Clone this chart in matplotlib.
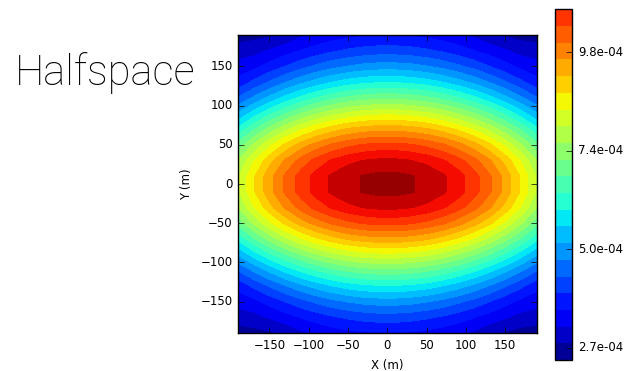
import numpy as np
import matplotlib
matplotlib.use('Agg')
import matplotlib.pyplot as plt

plt.style.use('classic')

# grid node positions (m) for one quadrant, the field is mirrored in x and y
node_pos = [10, 30, 50, 70, 90, 110, 130, 150, 170, 190]

# field values (x 1e-4), rows = y nodes, columns = x nodes
field_q = [
    [11.71, 11.64, 11.50, 11.28, 10.97, 10.57, 10.06, 9.45, 8.74, 7.94],
    [11.29, 11.22, 11.08, 10.86, 10.55, 10.15, 9.65, 9.05, 8.35, 7.58],
    [10.51, 10.44, 10.29, 10.07, 9.76, 9.37, 8.88, 8.30, 7.64, 6.92],
    [9.46, 9.39, 9.25, 9.02, 8.72, 8.34, 7.87, 7.33, 6.73, 6.09],
    [8.28, 8.21, 8.06, 7.85, 7.56, 7.20, 6.77, 6.29, 5.76, 5.21],
    [7.07, 7.00, 6.87, 6.66, 6.40, 6.07, 5.70, 5.28, 4.84, 4.40],
    [5.94, 5.88, 5.76, 5.58, 5.34, 5.07, 4.75, 4.41, 4.06, 3.72],
    [4.96, 4.91, 4.80, 4.65, 4.46, 4.23, 3.98, 3.72, 3.46, 3.30],
    [4.17, 4.12, 4.04, 3.92, 3.76, 3.59, 3.40, 3.21, 3.03, 2.98],
    [3.56, 3.53, 3.46, 3.37, 3.25, 3.10, 2.84, 2.72, 2.63, 2.56],
]

# contour levels: 24 bands, the colorbar shows the lowest 21
level_start = 2.37e-4
level_step = 4.016e-5
n_levels = 25
n_bar_levels = 22
cbar_ticks = [2.66e-4, 5.03e-4, 7.40e-4, 9.77e-4]
axis_ticks = [-150, -100, -50, 0, 50, 100, 150]

q = np.array(field_q)
full_pos = [-p for p in node_pos[::-1]] + node_pos
half = np.hstack([q[:, ::-1], q])
Z = np.vstack([half[::-1], half]) * 1e-4
X, Y = np.meshgrid(full_pos, full_pos)

levels = level_start + level_step * np.arange(n_levels)

fig = plt.figure(figsize=(6.27, 3.71), dpi=100, facecolor='white')
ax = fig.add_axes([0.3796, 0.1024, 0.4764, 0.8032])
cs = ax.contourf(X, Y, Z, levels=levels, cmap='jet')
ax.set_xlim(-190, 190)
ax.set_ylim(-190, 190)
ax.set_xticks(axis_ticks)
ax.set_yticks(axis_ticks)
ax.tick_params(labelsize=8.5)
ax.set_xlabel('X (m)', fontsize=8.5)
ax.set_ylabel('Y (m)', fontsize=8.5)

cax = fig.add_axes([0.8852, 0.0296, 0.0276, 0.9453])
cb = fig.colorbar(cs, cax=cax, ticks=cbar_ticks, format='%.1e')
cb.ax.set_ylim(levels[0], levels[n_bar_levels - 1])
cb.ax.tick_params(labelsize=8.5)

fig.text(0.024, 0.77, 'Halfspace', fontsize=30, family='Roboto', weight='light')

fig.savefig('out.png', dpi=100, facecolor='white')
